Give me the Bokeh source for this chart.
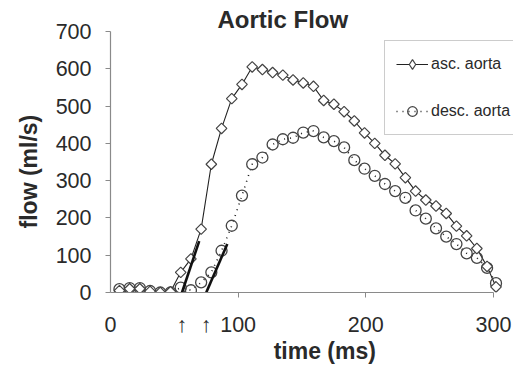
from bokeh.plotting import figure
from bokeh.models import Range1d, Legend, LegendItem, FixedTicker
from bokeh.embed import file_html
from bokeh.resources import INLINE

# ---- data ----
time_ms = [7, 15, 23, 31, 39, 47, 55, 63, 71, 79, 87, 95, 103, 111, 119, 127, 135, 143, 151,
           159, 167, 175, 183, 191, 199, 207, 215, 223, 231, 239, 247, 255, 263, 271, 279,
           287, 295, 302]
asc_aorta = [5, 10, 10, 3, 0, 2, 54, 90, 170, 344, 440, 520, 558, 605, 598, 590, 583, 570, 562,
             553, 515, 505, 485, 460, 428, 400, 368, 345, 308, 272, 248, 232, 212, 178, 152,
             118, 70, 15]
desc_aorta = [9, 12, 12, 4, 0, 0, 13, 6, 27, 54, 112, 179, 260, 344, 362, 397, 411, 415, 429,
              433, 416, 406, 389, 355, 332, 313, 291, 272, 254, 220, 198, 172, 150, 130, 105,
              93, 66, 25]
# onset fit lines and onset markers (arrows under the time axis)
asc_onset_t = [56, 69.5]
asc_onset_v = [0, 138]
desc_onset_t = [75, 91.5]
desc_onset_v = [0, 130]
onset_arrows_t = [56, 75]

x_ticks = [0, 100, 200, 300]
y_ticks = [0, 100, 200, 300, 400, 500, 600, 700]
x_max = 300
x_view_max = 315.7   # the plotting area runs a little past the last tick (legend sits there)

FONT = "Liberation Sans"
TXT = "#2a2a2a"
AX = "#8a8a8a"
MK = "#444444"

p = figure(width=513, height=366, output_backend="svg", toolbar_location=None,
           x_range=Range1d(0, x_view_max), y_range=Range1d(0, 700),
           min_border_left=110, min_border_right=0, min_border_top=31, min_border_bottom=74)
p.grid.visible = False
p.outline_line_color = None
p.background_fill_color = "white"

p.title.text = "Aortic Flow"
p.title.align = "left"
p.title.offset = 107
p.title.standoff = -3
p.title.text_font = FONT
p.title.text_font_style = "bold"
p.title.text_font_size = "24px"
p.title.text_color = TXT

# x axis: bounded to 0..300, arrows drawn as tick-label glyphs at onset times
xa = p.xaxis[0]
xa.bounds = (0, x_max)
xa.ticker = FixedTicker(ticks=sorted(x_ticks + onset_arrows_t), minor_ticks=x_ticks[1:])
xa.major_label_overrides = {t: "\u2191" for t in onset_arrows_t}
xa.major_tick_line_color = None
xa.major_tick_in = 0
xa.major_tick_out = 0
xa.minor_tick_line_color = AX
xa.minor_tick_in = 0
xa.minor_tick_out = 5
xa.major_label_standoff = 15

ya = p.yaxis[0]
ya.ticker = FixedTicker(ticks=y_ticks)
ya.major_tick_line_color = AX
ya.major_tick_in = 0
ya.major_tick_out = 5
ya.minor_tick_line_color = None
ya.major_label_standoff = 14

for ax in (xa, ya):
    ax.axis_line_color = AX
    ax.axis_line_width = 1.2
    ax.major_label_text_font = FONT + ", DejaVu Sans"
    ax.major_label_text_font_size = "21.5px"
    ax.major_label_text_color = TXT
    ax.axis_label_text_font = FONT
    ax.axis_label_text_font_style = "bold"
    ax.axis_label_text_font_size = "23px"
    ax.axis_label_text_color = TXT

xa.axis_label = "\u00a0\u00a0\u00a0\u00a0time (ms)"
xa.axis_label_standoff = -2
ya.axis_label = "flow (ml/s)\u00a0\u00a0\u00a0"
ya.axis_label_standoff = 11

# series
l_asc = p.line(time_ms, asc_aorta, line_color="#222222", line_width=1.1)
l_desc = p.line(time_ms, desc_aorta, line_color="#222222", line_width=1.6, line_dash="1 5")
s_desc = p.scatter(time_ms, desc_aorta, marker="circle", size=11, fill_color=None,
                   line_color=MK, line_width=1.3)
s_asc = p.scatter(time_ms, asc_aorta, marker="square", angle=0.785, size=7.5,
                  fill_color="white", line_color=MK, line_width=1.2)
# legend swatch for the diamond markers (legend glyphs are drawn unrotated);
# a single NaN point, so it draws nothing in the plot itself
nan = float("nan")
s_asc_key = p.scatter([nan], [nan], marker="diamond", size=7.5, fill_color="white",
                      line_color=MK, line_width=1.2)

# onset fit lines
p.line(asc_onset_t, asc_onset_v, line_color="#111111", line_width=2.6)
p.line(desc_onset_t, desc_onset_v, line_color="#111111", line_width=2.6)

# legend
legend = Legend(items=[LegendItem(label="asc. aorta", renderers=[l_asc, s_asc_key]),
                       LegendItem(label="desc. aorta", renderers=[l_desc, s_desc])],
                location=(274, 157), orientation="vertical",
                glyph_width=32, glyph_height=24, label_height=24, label_standoff=3,
                padding=11, spacing=23, margin=0,
                label_text_font=FONT, label_text_font_size="16px", label_text_color=TXT,
                border_line_color="#9a9a9a", border_line_width=1.2,
                background_fill_color="white", background_fill_alpha=1)
p.add_layout(legend, "center")

open("out.html", "w").write(file_html(p, INLINE))
